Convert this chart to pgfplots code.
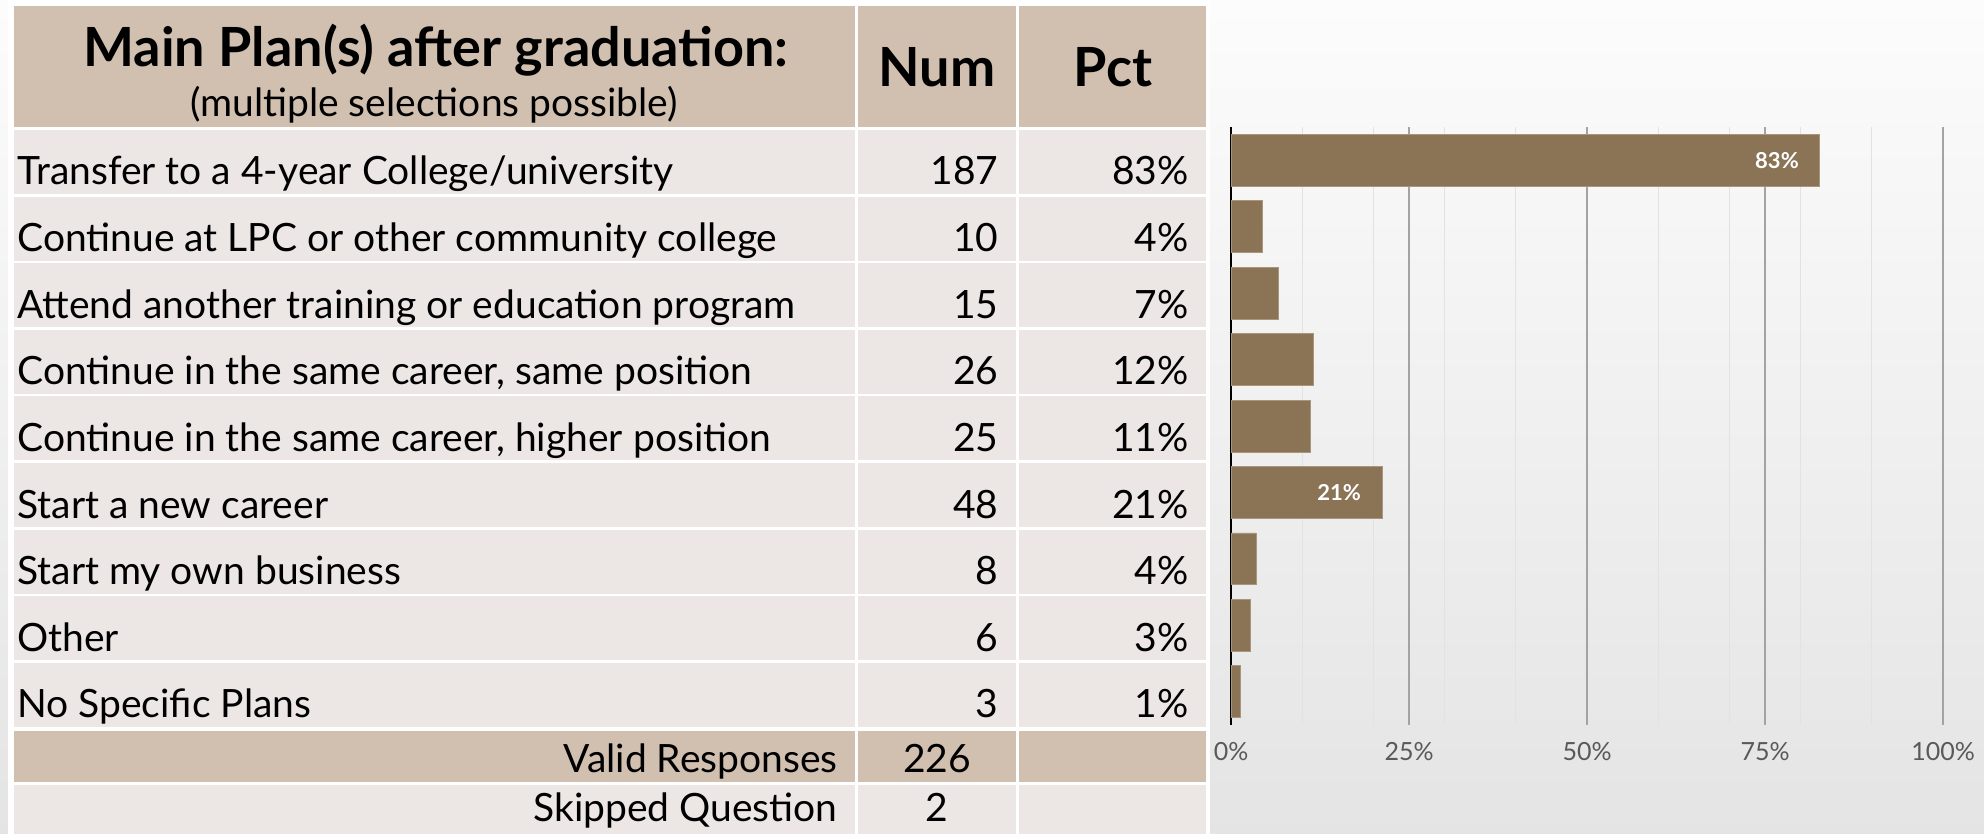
\documentclass[border=0pt]{standalone}
\usepackage{pgfplots}
\pgfplotsset{compat=1.18}
\usepackage{fontspec}
\setmainfont{Lato}
\definecolor{hdr}{HTML}{D1C0AF}
\definecolor{rowc}{HTML}{ECE6E5}
\definecolor{barc}{HTML}{8B7355}
\definecolor{baredge}{HTML}{A8957A}
\definecolor{gridmaj}{HTML}{A3A3A3}
\definecolor{gridmin}{HTML}{E2E2E2}
\definecolor{ticklab}{HTML}{595959}
\definecolor{bgtop}{HTML}{FCFCFC}
\definecolor{bgbot}{HTML}{E4E4E4}
\newcommand\rowf{\fontsize{19.5}{23}\selectfont}
\newcommand\titf{\fontsize{27}{32}\selectfont\bfseries}
\newcommand\subf{\fontsize{19.5}{23}\selectfont}
\begin{document}
\begin{tikzpicture}
\begin{scope}[x=0.5pt,y=-0.5pt]
\path[use as bounding box] (0,0) rectangle (1984,834);
\shade[top color=bgtop, bottom color=bgbot] (0,0) rectangle (1984,834);
\fill[white] (8,0) rectangle (1210,834);
% header
\fill[hdr] (14,6) rectangle (855,127);
\fill[hdr] (858,6) rectangle (1016,127);
\fill[hdr] (1019,6) rectangle (1206,127);
\foreach \i in {0,...,8}{
  \fill[rowc] (14,{130+66.6*\i}) rectangle (855,{194+66.6*\i});
  \fill[rowc] (858,{130+66.6*\i}) rectangle (1016,{194+66.6*\i});
  \fill[rowc] (1019,{130+66.6*\i}) rectangle (1206,{194+66.6*\i});
}
\fill[hdr] (14,731) rectangle (855,782);
\fill[hdr] (858,731) rectangle (1016,782);
\fill[hdr] (1019,731) rectangle (1206,782);
\fill[rowc] (14,785) rectangle (855,834);
\fill[rowc] (858,785) rectangle (1016,834);
\fill[rowc] (1019,785) rectangle (1206,834);
% header text
\node[anchor=base, inner sep=0pt, font=\titf] at (436,67) {Main Plan(s) after graduation:};
\node[anchor=base, inner sep=0pt, font=\subf] at (434,117) {(multiple selections possible)};
\node[anchor=base, inner sep=0pt, font=\titf] at (937,87) {Num};
\node[anchor=base, inner sep=0pt, font=\titf] at (1113,87) {Pct};
% rows
\foreach \lab/\n/\p [count=\i from 0] in {
  {Transfer to a 4-year College/university}/187/83,
  {Continue at LPC or other community college}/10/4,
  {Attend another training or education program}/15/7,
  {Continue in the same career, same position}/26/12,
  {Continue in the same career, higher position}/25/11,
  {Start a new career}/48/21,
  {Start my own business}/8/4,
  {Other}/6/3,
  {No Specific Plans}/3/1}{
  \node[anchor=base west, inner sep=0pt, font=\rowf] at (17,{185+66.6*\i}) {\lab};
  \node[anchor=base east, inner sep=0pt, font=\rowf] at (999,{185+66.6*\i}) {\n};
  \node[anchor=base east, inner sep=0pt, font=\rowf] at (1189,{185+66.6*\i}) {\p\%};
}
\node[anchor=base east, inner sep=0pt, font=\rowf] at (838,772) {Valid Responses};
\node[anchor=base, inner sep=0pt, font=\rowf] at (937,772) {226};
\node[anchor=base east, inner sep=0pt, font=\rowf] at (838,821) {Skipped Question};
\node[anchor=base, inner sep=0pt, font=\rowf] at (937,821) {2};
\end{scope}
\begin{axis}[
  at={(615.5pt,-362.5pt)}, anchor=south west,
  scale only axis, width=356pt, height=299pt,
  xmin=0, xmax=100, ymin=-0.5, ymax=8.5, y dir=reverse,
  axis line style={draw=none},
  ytick=\empty,
  xtick={0,25,50,75,100},
  xticklabels={0\%,25\%,50\%,75\%,100\%},
  minor xtick={10,20,30,40,60,70,80,90},
  xmajorgrids, xminorgrids,
  major grid style={color=gridmaj, line width=0.75pt},
  minor grid style={color=gridmin, line width=0.5pt},
  major tick length=0pt, minor tick length=0pt,
  xticklabel style={font=\fontsize{12.5}{14}\selectfont, text=ticklab, yshift=-5pt},
  extra x ticks={0}, extra x tick labels={},
  extra x tick style={major grid style={black, line width=1.1pt}},
  clip=false,
]
\addplot[xbar, bar width=0.78, bar shift=0pt, fill=barc, draw=baredge, line width=0.4pt]
  coordinates {(82.7,0) (4.4,1) (6.6,2) (11.5,3) (11.1,4) (21.2,5) (3.5,6) (2.7,7) (1.3,8)};
\addplot[xbar, bar width=0.78, bar shift=0pt, draw=none, fill=none,
  point meta=explicit symbolic, nodes near coords,
  nodes near coords style={anchor=east, xshift=-7pt, text=white, font=\fontsize{11}{13}\selectfont\bfseries}]
  coordinates {(82.7,0) [83\%] (21.2,5) [21\%]};
\end{axis}
\end{tikzpicture}
\end{document}
